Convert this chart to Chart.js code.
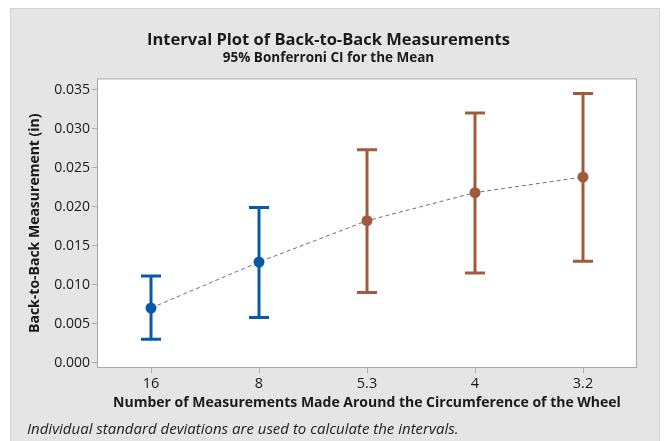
<!DOCTYPE html>
<html>
<head>
<meta charset="utf-8">
<script src="https://cdn.jsdelivr.net/npm/chart.js@4/dist/chart.umd.min.js"></script>
<style>
  html, body { margin: 0; padding: 0; background: #ffffff; }
  #wrap { position: relative; width: 670px; height: 441px; }
  #c { position: absolute; left: 0; top: 0; }
  #note { position: absolute; left: 27px; top: 418px; font-family: "Open Sans", sans-serif; font-style: italic; font-size: 15px; line-height: 20px; color: #222; white-space: nowrap; }
</style>
</head>
<body>
<div id="wrap">
  <canvas id="c" width="670" height="441"></canvas>
  <div id="note">Individual standard deviations are used to calculate the intervals.</div>
</div>
<script>
const categories = ['16', '8', '5.3', '4', '3.2'];
const means = [0.0070, 0.0129, 0.0182, 0.0218, 0.0238];
const lowerCI = [0.0030, 0.0058, 0.0090, 0.0115, 0.0130];
const upperCI = [0.0111, 0.0199, 0.0273, 0.0320, 0.0345];
const groupColors = ['#0a58a8', '#0a58a8', '#a05a3c', '#a05a3c', '#a05a3c'];
const yTicks = [0.000, 0.005, 0.010, 0.015, 0.020, 0.025, 0.030, 0.035];

const FONT = '"Open Sans", sans-serif';

const bgPlugin = {
  id: 'bg',
  beforeDraw(chart) {
    const ctx = chart.ctx;
    const a = chart.chartArea;
    ctx.save();
    ctx.fillStyle = '#ffffff';
    ctx.fillRect(0, 0, chart.width, chart.height);
    ctx.fillStyle = '#e5e5e5';
    ctx.fillRect(11, 9, 648, 440);
    ctx.strokeStyle = '#d2d2d2';
    ctx.lineWidth = 1;
    ctx.strokeRect(10.5, 8.5, 649, 440);
    ctx.fillStyle = '#ffffff';
    ctx.fillRect(a.left, a.top, a.right - a.left, a.bottom - a.top);
    ctx.strokeStyle = '#a8a8a8';
    ctx.strokeRect(a.left + 0.5, a.top + 0.5, a.right - a.left - 1, a.bottom - a.top - 1);
    ctx.restore();
  }
};

const errPlugin = {
  id: 'errbars',
  beforeDatasetsDraw(chart) {
    const ctx = chart.ctx;
    const xs = chart.scales.x, ys = chart.scales.y;
    ctx.save();
    ctx.lineWidth = 3;
    ctx.lineCap = 'butt';
    categories.forEach((c, i) => {
      const x = xs.getPixelForValue(i);
      const yl = ys.getPixelForValue(lowerCI[i]);
      const yu = ys.getPixelForValue(upperCI[i]);
      ctx.strokeStyle = groupColors[i];
      ctx.beginPath();
      ctx.moveTo(x, yl); ctx.lineTo(x, yu);
      ctx.moveTo(x - 10, yl); ctx.lineTo(x + 10, yl);
      ctx.moveTo(x - 10, yu); ctx.lineTo(x + 10, yu);
      ctx.stroke();
    });
    ctx.restore();
  }
};

new Chart(document.getElementById('c'), {
  type: 'line',
  data: {
    labels: categories,
    datasets: [{
      data: means,
      borderColor: '#707070',
      borderWidth: 1,
      borderDash: [4, 3],
      tension: 0,
      pointRadius: 5.5,
      pointHoverRadius: 5.5,
      pointBackgroundColor: groupColors,
      pointBorderColor: groupColors,
      pointBorderWidth: 0,
      fill: false
    }]
  },
  options: {
    responsive: false,
    animation: false,
    events: [],
    layout: { padding: { left: 20, top: 9, right: 33, bottom: 0 } },
    plugins: {
      legend: { display: false },
      tooltip: { enabled: false },
      title: {
        display: true,
        text: 'Interval Plot of Back-to-Back Measurements',
        color: '#1a1a1a',
        font: { family: FONT, size: 16.5, weight: 'bold', lineHeight: 1.2 },
        padding: { top: 21, bottom: 0 }
      },
      subtitle: {
        display: true,
        text: '95% Bonferroni CI for the Mean',
        color: '#1a1a1a',
        font: { family: FONT, size: 13.5, weight: 'bold', lineHeight: 1.2 },
        padding: { top: 0, bottom: 12.4 }
      }
    },
    scales: {
      x: {
        type: 'category',
        offset: true,
        grid: { display: true, drawOnChartArea: false, drawTicks: true, tickLength: 5, tickColor: '#b0b0b0', offset: false },
        border: { display: false },
        ticks: { color: '#1a1a1a', font: { family: FONT, size: 14.5 }, padding: 2, maxRotation: 0 },
        title: {
          display: true,
          text: 'Number of Measurements Made Around the Circumference of the Wheel',
          color: '#1a1a1a',
          font: { family: FONT, size: 14, weight: 'bold', lineHeight: 1.2 },
          padding: { top: 0, bottom: 30 }
        },
        afterFit(s) { s.height = 73; }
      },
      y: {
        min: -0.00069,
        max: 0.03645,
        grid: { display: true, drawOnChartArea: false, drawTicks: true, tickLength: 5, tickColor: '#b0b0b0' },
        border: { display: false },
        afterBuildTicks(s) { s.ticks = yTicks.map(v => ({ value: v })); },
        ticks: {
          color: '#1a1a1a',
          font: { family: FONT, size: 14 },
          padding: 2,
          callback: v => Number(v).toFixed(3)
        },
        title: {
          display: true,
          text: 'Back-to-Back Measurement (in)',
          color: '#1a1a1a',
          font: { family: FONT, size: 14, weight: 'bold', lineHeight: 1.2 },
          padding: { top: 7, bottom: 0 }
        },
        afterFit(s) { s.width = 77; }
      }
    }
  },
  plugins: [bgPlugin, errPlugin]
});
</script>
</body>
</html>
